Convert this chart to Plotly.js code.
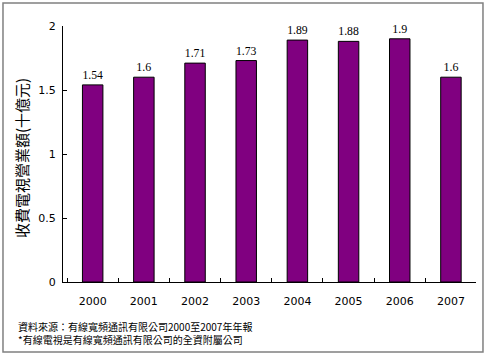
<!DOCTYPE html>
<html><head><meta charset="utf-8">
<script src="https://cdn.plot.ly/plotly-3.0.1.min.js"></script>
<style>html,body{margin:0;padding:0;background:#fff;}#chart{width:487px;height:358px;}</style>
</head><body><div id="chart"></div>
<script>
var years = ["2000","2001","2002","2003","2004","2005","2006","2007"];
var revenue = [1.54, 1.6, 1.71, 1.73, 1.89, 1.88, 1.9, 1.6];
var labels = ["1.54","1.6","1.71","1.73","1.89","1.88","1.9","1.6"];
var yTitle = "收費電視營業額(十億元)";
var note1 = "資料來源：有線寬頻通訊有限公司2000至2007年年報";
var note2 = "*有線電視是有線寬頻通訊有限公司的全資附屬公司";

var cjk = "Noto Sans CJK TC, Noto Sans CJK SC, sans-serif";
var trace = {
  type: "bar", x: years, y: revenue, text: labels,
  textposition: "outside", cliponaxis: false,
  textfont: {family: "Times New Roman, Liberation Serif, serif", size: 12, color: "#000"},
  marker: {color: "#800080", line: {color: "#000", width: 1}},
  width: 0.4, hoverinfo: "none"
};
var layout = {
  width: 487, height: 358,
  margin: {l: 63, r: 11, t: 26, b: 76},
  paper_bgcolor: "#fff", plot_bgcolor: "#fff",
  showlegend: false,
  font: {family: "DejaVu Sans, sans-serif", size: 11, color: "#000"},
  xaxis: {
    type: "category", range: [-0.58, 7.49],
    showline: true, linecolor: "#000", linewidth: 1,
    ticks: "inside", ticklen: 4, tickcolor: "#000", tickson: "boundaries",
    showgrid: false, zeroline: false,
    tickfont: {family: "DejaVu Sans, sans-serif", size: 11},
    ticklabelstandoff: 9
  },
  yaxis: {
    range: [0, 2], tickvals: [0, 0.5, 1, 1.5, 2], ticktext: ["0","0.5","1","1.5","2"],
    showline: true, linecolor: "#000", linewidth: 1,
    ticks: "inside", ticklen: 4, tickcolor: "#000",
    showgrid: false, zeroline: false,
    tickfont: {family: "DejaVu Sans, sans-serif", size: 11},
    ticklabelstandoff: 4
  },
  shapes: [{
    type: "rect", xref: "paper", yref: "paper",
    x0: -0.1453, x1: 1.0169, y0: -0.2734, y1: 1.0898,
    line: {color: "#808080", width: 1.5}, fillcolor: "rgba(0,0,0,0)"
  }],
  annotations: [
    {xref: "paper", yref: "paper", x: -0.1017, y: 0.484, xanchor: "center", yanchor: "middle",
     textangle: -90, text: yTitle, showarrow: false, font: {family: cjk, size: 15, color: "#000"}},
    {xref: "paper", yref: "paper", x: -0.113, y: -0.199, xanchor: "left", yanchor: "middle", align: "left",
     text: note1 + "<br>" + note2, showarrow: false, font: {family: cjk, size: 10, color: "#000"}}
  ]
};
Plotly.newPlot("chart", [trace], layout, {staticPlot: true, displayModeBar: false});
</script></body></html>
